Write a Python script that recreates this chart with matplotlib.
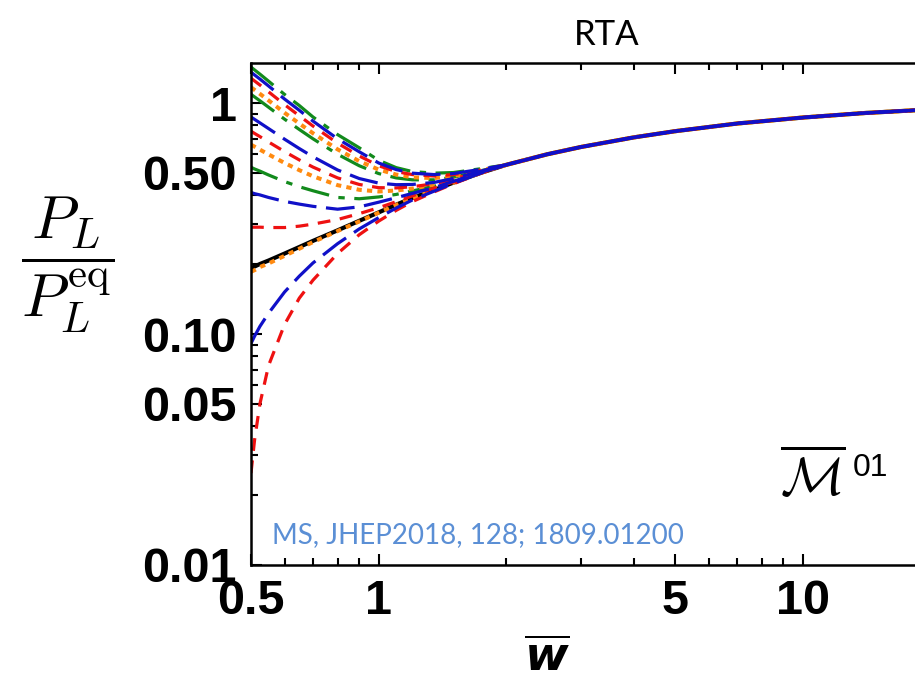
import matplotlib
matplotlib.use('Agg')
from matplotlib import pyplot as plt
from matplotlib.ticker import FixedLocator, FixedFormatter, NullFormatter

plt.rcParams['mathtext.fontset'] = 'cm'
plt.rcParams['font.family'] = ['Liberation Sans', 'DejaVu Sans']

# early-time grid (each curve has its own values here)
w_head = [0.5, 0.51, 0.525, 0.55, 0.6, 0.65, 0.7, 0.8, 0.9, 1.0, 1.1, 1.2, 1.35, 1.5, 1.75]
# late-time grid, all curves sit on the attractor
w_tail = [2, 2.5, 3, 4, 5, 7, 10, 14, 18.4]
pl_tail = [0.54, 0.60, 0.645, 0.71, 0.755, 0.815, 0.865, 0.905, 0.93]

green_curves = [
    [1.43, 1.39, 1.333, 1.243, 1.089, 0.975, 0.87, 0.73, 0.64, 0.565, 0.525, 0.505, 0.497, 0.50, 0.52],
    [1.09, 1.062, 1.022, 0.959, 0.851, 0.768, 0.70, 0.60, 0.535, 0.495, 0.474, 0.465, 0.465, 0.477, 0.51],
    [0.527, 0.518, 0.507, 0.488, 0.457, 0.434, 0.417, 0.39, 0.385, 0.392, 0.402, 0.416, 0.436, 0.461, 0.504],
]
blue_curves = [
    [1.36, 1.322, 1.269, 1.185, 1.04, 0.93, 0.835, 0.70, 0.615, 0.55, 0.515, 0.497, 0.49, 0.495, 0.517],
    [0.87, 0.849, 0.82, 0.775, 0.697, 0.635, 0.585, 0.513, 0.471, 0.45, 0.443, 0.444, 0.453, 0.471, 0.508],
    [0.41, 0.405, 0.40, 0.39, 0.375, 0.365, 0.357, 0.347, 0.355, 0.372, 0.389, 0.406, 0.43, 0.458, 0.502],
    [0.091, 0.098, 0.108, 0.123, 0.152, 0.178, 0.203, 0.246, 0.285, 0.319, 0.351, 0.38, 0.415, 0.449, 0.499],
]
red_curves = [
    [1.28, 1.245, 1.196, 1.118, 0.984, 0.88, 0.795, 0.67, 0.59, 0.535, 0.505, 0.49, 0.483, 0.49, 0.513],
    [0.755, 0.738, 0.715, 0.678, 0.616, 0.567, 0.528, 0.474, 0.444, 0.43, 0.429, 0.434, 0.447, 0.468, 0.507],
    [0.29, 0.29, 0.29, 0.289, 0.289, 0.293, 0.299, 0.313, 0.332, 0.352, 0.374, 0.396, 0.428, 0.455, 0.501],
    [0.025, 0.035, 0.05, 0.073, 0.11, 0.143, 0.171, 0.223, 0.269, 0.308, 0.343, 0.374, 0.412, 0.447, 0.498],
]
orange_curves = [
    [1.17, 1.139, 1.095, 1.026, 0.907, 0.815, 0.74, 0.63, 0.56, 0.515, 0.49, 0.477, 0.473, 0.483, 0.511],
    [0.66, 0.647, 0.628, 0.599, 0.55, 0.512, 0.482, 0.441, 0.421, 0.414, 0.418, 0.426, 0.443, 0.465, 0.505],
    [0.186, 0.189, 0.195, 0.202, 0.218, 0.234, 0.25, 0.279, 0.307, 0.335, 0.362, 0.387, 0.42, 0.452, 0.50],
]
black_curve = [0.193, 0.196, 0.201, 0.208, 0.223, 0.238, 0.253, 0.281, 0.309, 0.336, 0.363, 0.388, 0.42, 0.452, 0.50]

x_ticks = [0.5, 1, 5, 10]
x_ticklabels = ['0.5', '1', '5', '10']
y_ticks = [0.01, 0.05, 0.1, 0.5, 1]
y_ticklabels = ['0.01', '0.05', '0.10', '0.50', '1']

fig = plt.figure(figsize=(9.15, 6.89), dpi=100)
ax = fig.add_axes([251/915, 1 - 565/689, 1 - 251/915, (565 - 63)/689])

w_all = w_head + w_tail

ax.plot(w_all, black_curve + pl_tail, color='black', lw=3, solid_capstyle='butt')
for c in green_curves:
    ax.plot(w_all, c + pl_tail, color='#128a1c', lw=2.3, dashes=(9, 3, 2, 3))
for c in orange_curves:
    ax.plot(w_all, c + pl_tail, color='#ff8a10', lw=2.9, dashes=(1.3, 1.3))
for c in red_curves:
    ax.plot(w_all, c + pl_tail, color='#ee1111', lw=2.3, dashes=(4, 3))
for c in blue_curves:
    ax.plot(w_all, c + pl_tail, color='#1010c8', lw=2.3, dashes=(9, 3))

ax.set_xscale('log')
ax.set_yscale('log')
ax.set_xlim(0.5, 18.4)
ax.set_ylim(0.01, 1.49)

ax.xaxis.set_major_locator(FixedLocator(x_ticks))
ax.xaxis.set_major_formatter(FixedFormatter(x_ticklabels))
ax.xaxis.set_minor_locator(FixedLocator([0.6, 0.7, 0.8, 0.9, 2, 3, 4, 6, 7, 8, 9]))
ax.xaxis.set_minor_formatter(NullFormatter())
ax.yaxis.set_major_locator(FixedLocator(y_ticks))
ax.yaxis.set_major_formatter(FixedFormatter(y_ticklabels))
ax.yaxis.set_minor_locator(FixedLocator([0.02, 0.03, 0.04, 0.06, 0.07, 0.08, 0.09,
                                         0.2, 0.3, 0.4, 0.6, 0.7, 0.8, 0.9]))
ax.yaxis.set_minor_formatter(NullFormatter())

ax.tick_params(which='both', direction='in', top=True, right=False, width=1.5,
               labelsize=35, pad=10)
ax.tick_params(which='major', length=8)
ax.tick_params(which='minor', length=5)
for lab in ax.get_xticklabels() + ax.get_yticklabels():
    lab.set_fontweight('bold')
for s in ['left', 'bottom', 'top']:
    ax.spines[s].set_linewidth(1.8)
ax.spines['right'].set_visible(False)

fig.text(607/915, 1 - 35/689, 'RTA', ha='center', va='center', fontsize=25, family='Lato')
fig.text(272/915, 1 - 535/689, 'MS, JHEP2018, 128; 1809.01200', ha='left', va='center',
         fontsize=20, family='Lato', color='#5b8fd5')
fig.text(845/915, 1 - 478/689, r'$\overline{\mathcal{M}}$', ha='right', va='center', fontsize=38)
fig.text(853/915, 1 - 468/689, '01', ha='left', va='center', fontsize=23)
fig.text(68/915, 1 - 265/689, r'$\dfrac{P_L}{P_L^{\rm eq}}$', ha='center', va='center', fontsize=44)
fig.text(547/915, 1 - 660/689, r'$\overline{\mathbfit{w}}$', ha='center', va='center',
         fontsize=34, math_fontfamily='dejavusans')

fig.savefig('out.png', dpi=100)
